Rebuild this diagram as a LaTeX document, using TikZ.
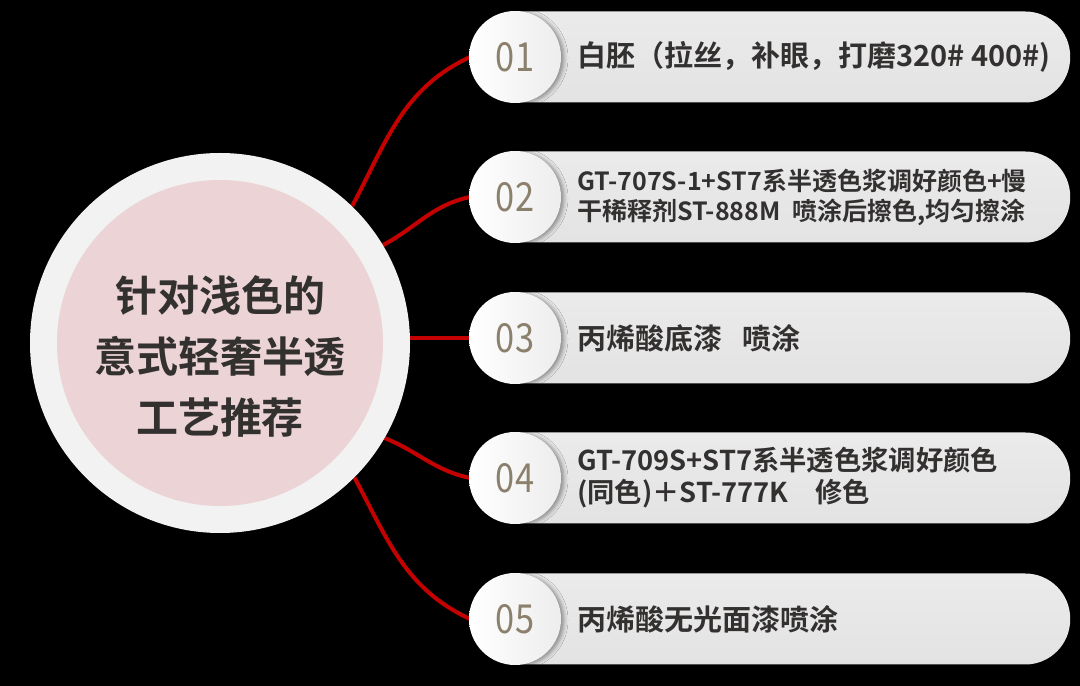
\documentclass[tikz,border=0pt]{standalone}
\usepackage{fontspec}
\setmainfont{Noto Sans CJK SC}[BoldFont={Noto Sans CJK SC Bold}]
\newfontfamily\numfont{Noto Sans CJK SC}[FakeStretch=0.86]
\usetikzlibrary{shadows.blur,backgrounds}

\definecolor{linkred}{RGB}{196,0,0}
\definecolor{hubpink}{RGB}{236,211,214}
\definecolor{ringgray}{RGB}{242,242,242}
\definecolor{numtan}{RGB}{138,128,108}
\definecolor{inkgray}{RGB}{51,48,48}

\begin{document}
\begin{tikzpicture}[x=1pt, y=1pt,
		hub/.style = {
			circle, inner sep=0pt, minimum size=380pt,
			fill=ringgray},
		hubinner/.style = {
			circle, inner sep=0pt, minimum size=326pt,
			fill=hubpink},
		hubtext/.style = {
			align=center, text=inkgray,
			font=\fontsize{42}{61}\selectfont\bfseries},
		pill/.style = {
			rectangle, rounded corners=45pt, anchor=west,
			minimum width=600pt, minimum height=91pt,
			top color=black!8, middle color=white, bottom color=black!11},
		numdisc/.style = {
			circle, inner sep=0pt, minimum size=92pt,
			left color=white, right color=black!7,
			blur shadow={shadow xshift=3pt, shadow yshift=-1pt,
				shadow blur radius=4pt, shadow opacity=40},
			text=numtan, font=\fontsize{40}{40}\numfont},
		steptext/.style = {
			anchor=west, align=left, inner sep=0pt, text=inkgray,
			font=\fontsize{29}{30}\selectfont\bfseries},
		link/.style = {draw=linkred, line width=4pt}]
	\useasboundingbox (0,0) rectangle (1080,686);

	\node[hub] (hub) at (220,343) {};
	\node[hubinner] (core) at (hub.center) {};
	\node[hubtext] (title) at (220,330) {针对浅色的\\意式轻奢半透\\工艺推荐};

	\foreach \i/\y in {1/629, 2/489, 3/348, 4/208, 5/67} {
		\node[pill] (p\i) at (470,\y) {};
		\node[numdisc] (n\i) at (515,\y) {0\i};
	}

	\node[steptext] (t1) at (577,629) {白胚（拉丝，补眼，打磨320\# 400\#)};
	\node[steptext, font=\fontsize{25}{30}\selectfont\bfseries] (t2) at (577,489) {GT-707S-1+ST7系半透色浆调好颜色+慢\\干稀释剂ST-888M\ \ 喷涂后擦色,均匀擦涂};
	\node[steptext] (t3) at (577,348) {丙烯酸底漆\hspace{20pt}喷涂};
	\node[steptext, font=\fontsize{27.3}{32}\selectfont\bfseries] (t4) at (577,208) {GT-709S+ST7系半透色浆调好颜色\\(同色)＋ST-777K\quad 修色};
	\node[steptext] (t5) at (577,67) {丙烯酸无光面漆喷涂};

	\begin{scope}[on background layer]
		\fill[black] (0,0) rectangle (1080,686);
		% red links from the hub to each step
		\draw[link] (hub.46) to[out=62, in=205] (p1.west);
		\draw[link] (hub.31) to[out=28, in=192] (p2.west);
		\draw[link] (p3.west -| hub.east) -- (p3.west);
		\draw[link] (hub.-30) to[out=-22, in=168] (p4.west);
		\draw[link] (hub.-45) to[out=-62, in=155] (p5.west);
	\end{scope}
\end{tikzpicture}
\end{document}
